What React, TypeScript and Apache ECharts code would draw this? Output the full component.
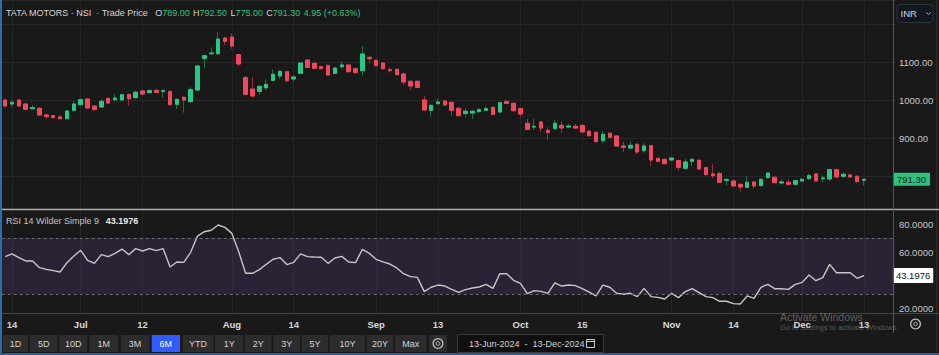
import React, { useEffect, useRef } from 'react';
import * as echarts from 'echarts';

// ---------- data ----------
const junDays = [13, 14, 18, 19, 20, 21, 24, 25, 26, 27, 28];
const julDays = [1, 2, 3, 4, 5, 8, 9, 10, 11, 12, 15, 16, 18, 19, 22, 23, 24, 25, 26, 29, 30, 31];
const augDays = [1, 2, 5, 6, 7, 8, 9, 12, 13, 14, 16, 19, 20, 21, 22, 23, 26, 27, 28, 29, 30];
const sepDays = [2, 3, 4, 5, 6, 9, 10, 11, 12, 13, 16, 17, 18, 19, 20, 23, 24, 25, 26, 27, 30];
const octDays = [1, 3, 4, 7, 8, 9, 10, 11, 14, 15, 16, 17, 18, 21, 22, 23, 24, 25, 28, 29, 30, 31];
const novDays = [1, 4, 5, 6, 7, 8, 11, 12, 13, 14, 18, 19, 21, 22, 25, 26, 27, 28, 29];
const decDays = [2, 3, 4, 5, 6, 9, 10, 11, 12, 13];
const futureDays = ['2024-12-16', '2024-12-17', '2024-12-18', '2024-12-19'];

const monthDays: [string, number[]][] = [
  ['06', junDays], ['07', julDays], ['08', augDays], ['09', sepDays],
  ['10', octDays], ['11', novDays], ['12', decDays],
];
const categories: string[] = monthDays
  .flatMap(([m, ds]) => ds.map((d) => `2024-${m}-${String(d).padStart(2, '0')}`))
  .concat(futureDays);

const opens = [
  1000, 989.5, 1000, 989.5, 977.2, 978.1, 960.5, 958.8, 955.3, 950.9,
  972.8, 987.7, 1002.6, 984.2, 981.6, 1004.4, 1000.9, 1000, 1014, 1006.1,
  1023.7, 1019.3, 1025.4, 1022.8, 1022.8, 988.6, 1007, 995.6, 1026.3, 1109.6,
  1121.9, 1121.9, 1163.1, 1165.8, 1119.3, 1058.8, 1028.9, 1022.8, 1032.4, 1051.7,
  1063.1, 1074.5, 1055.3, 1070.2, 1105.2, 1096.5, 1087.7, 1090.3, 1070.2, 1087.7,
  1092.1, 1082.4, 1077.2, 1112.3, 1104.4, 1097.3, 1079.8, 1080.7, 1068.4, 1049.1,
  1049.1, 1000, 972.8, 990.4, 997.4, 993.9, 978.1, 964.9, 965.8, 969.3,
  972.8, 980.7, 968.4, 996.5, 991.2, 977.2, 938.6, 929, 942.1, 920.2,
  924.6, 933.3, 929, 930.7, 933.3, 917.6, 914.9, 893, 912.3, 905.3,
  879, 873.7, 883.4, 866.7, 879.9, 846.5, 843.9, 842.1, 840.4, 820.2,
  838.6, 841.3, 822, 805.3, 806.2, 788.6, 786.9, 778.1, 770.2, 784.3,
  774.6, 795.7, 796.5, 781.6, 783.4, 778.1, 786.9, 793, 805.3, 793,
  792.1, 816.7, 799.2, 802.7, 799.2, 789,
];
const highs = [
  1001.8, 1000, 1002.6, 991.2, 986.8, 979.8, 963.2, 960.5, 960.5, 972.8,
  997.4, 1003.5, 1004.4, 986, 1001.8, 1006.1, 1014.9, 1016.7, 1017.5, 1025.4,
  1026.3, 1028.1, 1027.2, 1028.1, 1024.6, 1003.5, 1008.8, 1033.3, 1091.2, 1118.4,
  1138.6, 1178, 1166.6, 1175.4, 1121, 1063.2, 1059.6, 1038.6, 1054.4, 1080.7,
  1078, 1076.3, 1065.8, 1099.1, 1107, 1098.2, 1089.5, 1093.8, 1086.8, 1101.7,
  1093.8, 1085.1, 1142.1, 1114, 1106.1, 1099.1, 1085.1, 1082.4, 1070.2, 1050.9,
  1050.9, 1010.5, 987.7, 1003.5, 999.1, 995.6, 979.8, 979, 973.7, 978.1,
  983.3, 982.5, 994.7, 999.1, 993, 979, 950, 950, 943.9, 928.1,
  947.4, 943, 936.9, 936.9, 935.1, 921.1, 916.7, 917.6, 915.8, 907,
  890.4, 890.4, 885.1, 886, 881.6, 848.3, 845.6, 850, 842.1, 844.8,
  846.5, 843, 823.7, 831.6, 811.4, 794.8, 788.6, 779.9, 800, 786,
  793, 809.7, 798.3, 791.3, 791.3, 789.5, 794.8, 807, 807, 800,
  818.5, 819.3, 809.7, 807, 800.9, 792.5,
];
const lows = [
  980.7, 980.7, 982.5, 973.7, 975.4, 958.8, 950.9, 951.8, 950, 949.1,
  971.9, 986, 977.2, 972.8, 979.8, 990.4, 995.6, 998.2, 985.1, 1004.4,
  1014, 1017.5, 1018.4, 1007, 986, 976.3, 966.7, 993.9, 1024.6, 1083.3,
  1119.3, 1118.4, 1143.8, 1135.1, 1090.3, 1013.2, 1007, 1014, 1026.3, 1050,
  1054.4, 1047.4, 1047.4, 1068.4, 1084.2, 1081.6, 1080.7, 1063.1, 1068.4, 1082.4,
  1072.8, 1070.2, 1064.9, 1096.5, 1088.6, 1080.7, 1071.9, 1064.9, 1039.5, 1024.6,
  1031.6, 971.9, 956.2, 988.6, 985.1, 958.8, 957, 956.2, 950, 967.5,
  971.1, 960.5, 964.9, 989.5, 970.2, 956.2, 921.1, 921.1, 914.9, 894.7,
  922.8, 912.3, 927.2, 924.6, 914, 903.5, 888.6, 886, 899.1, 877.2,
  863.2, 872, 857, 861.4, 826.4, 836.9, 830.7, 840.4, 814.1, 818.5,
  826.4, 816.7, 801.8, 793.9, 781.6, 775.5, 772, 758.8, 768.5, 766.7,
  772.9, 793.9, 780.7, 777.2, 776.4, 776.4, 785.1, 789.5, 785.1, 782.5,
  786.9, 795.7, 796.5, 795.7, 783.4, 775,
];
const closes = [
  984.2, 993.9, 984.2, 975.4, 979.8, 960.5, 956.2, 953.5, 950.9, 971.1,
  989.5, 1000.9, 979, 974.6, 996.5, 992.1, 1005.3, 1014, 1003.5, 1020.2,
  1015.8, 1024.6, 1020.2, 1024.6, 987.7, 1001.8, 1000, 1027.2, 1089.5, 1116.6,
  1123.7, 1160.5, 1154.4, 1142.1, 1094.7, 1014.9, 1010.5, 1036, 1041.2, 1067.5,
  1075.4, 1050.9, 1060.5, 1097.3, 1085.9, 1083.3, 1082.4, 1065.8, 1084.2, 1092.1,
  1074.5, 1071.9, 1121, 1108.7, 1090.3, 1082.4, 1077.2, 1066.7, 1047.4, 1036.8,
  1033.3, 973.7, 986, 994.7, 986.8, 972.8, 958.8, 970.2, 970.2, 974.6,
  977.2, 962.3, 993, 991.2, 971.9, 963.2, 922.8, 930.7, 926.3, 914.9,
  938.6, 926.3, 931.6, 926.3, 915.8, 906.2, 890.4, 909.7, 901.8, 879,
  875.5, 880.7, 863.2, 879, 842.1, 838.6, 832.5, 847.4, 822.8, 836.9,
  843.9, 818.5, 803.6, 800.9, 783.4, 790.4, 773.7, 771.1, 783.4, 773.7,
  791.3, 807.9, 782.5, 784.3, 778.1, 787.8, 791.3, 800.9, 786.9, 794.8,
  816.7, 797.4, 804.4, 797.4, 785.1, 791.3,
];
const rsi = [
  56.7, 58.6, 56.0, 53.6, 53.6, 48.8, 47.6, 46.7, 45.7, 52.4,
  57.1, 61.2, 54.0, 51.9, 58.1, 56.7, 59.0, 62.1, 58.1, 62.4,
  60.7, 62.4, 61.0, 62.4, 49.3, 52.9, 52.6, 59.8, 71.4, 74.5,
  75.5, 79.3, 77.6, 73.3, 60.2, 44.8, 44.8, 47.4, 51.2, 54.8,
  56.0, 51.0, 52.6, 58.7, 56.7, 56.4, 56.2, 51.9, 55.7, 56.9,
  52.9, 52.4, 61.9, 59.0, 54.8, 52.9, 51.4, 48.6, 44.5, 42.4,
  41.9, 31.7, 34.8, 36.4, 35.7, 33.3, 31.2, 33.1, 34.3, 35.0,
  36.9, 34.0, 44.5, 44.5, 39.8, 37.6, 30.2, 32.4, 31.9, 30.5,
  37.9, 35.7, 36.4, 36.0, 33.8, 31.4, 28.6, 36.4, 34.8, 30.5,
  29.8, 30.5, 28.1, 34.0, 28.1, 27.6, 26.4, 30.5, 27.4, 31.7,
  33.8, 31.0, 28.1, 27.4, 24.8, 24.8, 23.1, 22.9, 28.6, 26.9,
  34.8, 36.9, 33.8, 33.8, 33.3, 36.9, 38.3, 43.6, 39.5, 41.7,
  51.2, 45.2, 45.2, 45.2, 41.2, 43.1976,
];

const tickDates = ['2024-06-14', '2024-07-01', '2024-07-12', '2024-08-01', '2024-08-14', '2024-09-02', '2024-09-13', '2024-10-01', '2024-10-15', '2024-11-01', '2024-11-14', '2024-12-02', '2024-12-13'];
const tickTexts = ['14', 'Jul', '12', 'Aug', '14', 'Sep', '13', 'Oct', '15', 'Nov', '14', 'Dec', '13'];
const monthNames = ['Jul', 'Aug', 'Sep', 'Oct', 'Nov', 'Dec'];
const priceTickLabels = [900, 1000, 1100];
const rsiTickLabels = [20, 60, 80];
const rsiBands = [70, 30];

const symbolName = 'TATA MOTORS · NSI  · Trade Price';
const ohlcKeys = ['O', 'H', 'L', 'C'];
const ohlcValues = ['789.00', '792.50', '775.00', '791.30'];
const changeText = '4.95 (+0.63%)';
const rsiTitle = 'RSI 14 Wilder Simple 9';
const rsiValueText = '43.1976';
const currency = 'INR';
const rangeButtons = ['1D', '5D', '10D', '1M', '3M', '6M', 'YTD', '1Y', '2Y', '3Y', '5Y', '10Y', '20Y', 'Max'];
const activeRange = '6M';
const dateRange = '13-Jun-2024  -  13-Dec-2024';

// ---------- styling / layout ----------
const W = 939;
const H = 355;
const BG = '#191919';
const FONT = '"Liberation Sans", Arial, sans-serif';
const UP = '#29c785';
const DOWN = '#f0475e';
const UP_WICK = '#1f6e4c';
const DOWN_WICK = '#96303f';
const TXT = '#c8c8c8';
const GRID_LINE = '#272727';
const AXIS_X = 893;
const CLEAR = 'rgba(0,0,0,0)';
const btnL = [2.7, 30, 59.3, 89.3, 120.7, 151.7, 182.7, 215, 245, 273.3, 301.7, 330, 366.7, 395];
const btnR = [28.3, 57.3, 87.3, 118.3, 149.3, 180, 213.3, 243.3, 271.7, 300, 328.3, 365, 393.3, 426.7];

function buildOption() {
  const lastClose = closes[closes.length - 1];
  const lastRsi = rsi[rsi.length - 1];
  const wickData = opens.map((o, i) => [o, closes[i], lows[i], highs[i]]);
  const bodyData = opens.map((o, i) => [o, closes[i], Math.min(o, closes[i]), Math.max(o, closes[i])]);

  const splitInterval = (_i: number, v: string) => tickDates.includes(v);
  const xAxis = (gridIndex: number, labels: boolean) => ({
    type: 'category',
    gridIndex,
    data: categories,
    boundaryGap: true,
    axisLine: { show: false },
    axisTick: { show: false },
    axisPointer: { show: false },
    axisLabel: labels
      ? {
          show: true,
          interval: splitInterval,
          margin: 6,
          color: '#d2d2d2',
          fontSize: 9.5,
          fontFamily: FONT,
          formatter: (v: string) => {
            const t = tickTexts[tickDates.indexOf(v)] || '';
            return monthNames.includes(t) ? `{m|${t}}` : `{d|${t}}`;
          },
          rich: {
            m: { fontWeight: 'bold', color: '#dcdcdc', fontSize: 9.5, fontFamily: FONT },
            d: { fontWeight: 'bold', color: '#d2d2d2', fontSize: 9.5, fontFamily: FONT },
          },
        }
      : { show: false },
    splitLine: { show: true, interval: splitInterval, alignWithLabel: true, lineStyle: { color: '#252525', width: 1 } },
  });

  const valueLabel = (text: string, bg: string, fg: string, padding: number[]) => ({
    show: true, position: 'end', distance: -2, formatter: text,
    backgroundColor: bg, color: fg, fontSize: 9.5, fontFamily: FONT, padding, borderRadius: 1,
  });

  const graphic: any[] = [];
  // header
  graphic.push({
    type: 'text', z: 100,
    style: {
      x: 6, y: 12.5, verticalAlign: 'middle',
      text: `{t|${symbolName}}  ` + ohlcKeys.map((k, i) => `{k|${k}}{v|${ohlcValues[i]}}`).join(' ') + ` {v|${changeText}}`,
      rich: {
        t: { fill: '#d6d6d6', fontSize: 9, fontFamily: FONT },
        k: { fill: '#d6d6d6', fontSize: 9, fontFamily: FONT },
        v: { fill: '#2fc27c', fontSize: 9, fontFamily: FONT },
      },
    },
  });
  // RSI legend
  graphic.push({
    type: 'text', z: 100,
    style: {
      x: 6, y: 221, verticalAlign: 'middle',
      text: `{a|${rsiTitle}}  {b|${rsiValueText}}`,
      rich: {
        a: { fill: '#c4c4c4', fontSize: 9, fontFamily: FONT },
        b: { fill: '#e8e8e8', fontSize: 9, fontWeight: 'bold', fontFamily: FONT },
      },
    },
  });
  // separators
  graphic.push({ type: 'line', z: 100, shape: { x1: 0, y1: 209.5, x2: W, y2: 209.5 }, style: { stroke: '#a9a9a9', lineWidth: 1.6 } });
  graphic.push({ type: 'line', z: 100, shape: { x1: 0, y1: 313.5, x2: W, y2: 313.5 }, style: { stroke: '#454545', lineWidth: 1 } });
  graphic.push({ type: 'line', z: 100, shape: { x1: AXIS_X + 0.5, y1: 0, x2: AXIS_X + 0.5, y2: 333 }, style: { stroke: '#555555', lineWidth: 1 } });
  graphic.push({ type: 'line', z: 1, shape: { x1: 936.5, y1: 0, x2: 936.5, y2: 353 }, style: { stroke: '#2e2e2e', lineWidth: 1 } });
  // currency box
  graphic.push({ type: 'rect', z: 100, shape: { x: 897, y: 4.5, width: 36, height: 18, r: 3 }, style: { fill: '#131820', stroke: '#2a3340', lineWidth: 1 } });
  graphic.push({ type: 'text', z: 101, style: { x: 900.5, y: 13.5, verticalAlign: 'middle', text: currency, fill: '#d4d4e2', fontSize: 9.5, fontFamily: FONT } });
  graphic.push({ type: 'polyline', z: 101, shape: { points: [[926.5, 12.5], [928.5, 14.5], [930.5, 12.5]] }, style: { stroke: '#b8b8c8', lineWidth: 1, fill: 'none' } });
  // gear icons
  const gear = (cx: number, cy: number) => [
    { type: 'ring', z: 101, shape: { cx, cy, r: 5.5, r0: 4.2 }, style: { fill: '#bdbdbd' } },
    { type: 'circle', z: 101, shape: { cx, cy, r: 1.8 }, style: { fill: 'none', stroke: '#bdbdbd', lineWidth: 1 } },
  ];
  graphic.push(...gear(915.5, 324));
  // range buttons
  rangeButtons.forEach((b, i) => {
    const active = b === activeRange;
    graphic.push({ type: 'rect', z: 100, shape: { x: btnL[i], y: 335, width: btnR[i] - btnL[i], height: 17 }, style: { fill: active ? '#2f5bff' : '#2c2c2c' } });
    graphic.push({ type: 'text', z: 101, style: { x: (btnL[i] + btnR[i]) / 2, y: 343.5, align: 'center', verticalAlign: 'middle', text: b, fill: active ? '#ffffff' : '#d4d4d4', fontSize: 9, fontFamily: FONT } });
  });
  graphic.push({ type: 'rect', z: 100, shape: { x: 429, y: 335, width: 18, height: 17 }, style: { fill: '#2c2c2c' } });
  graphic.push(...gear(438, 343.5));
  // date range box
  graphic.push({ type: 'rect', z: 100, shape: { x: 457.5, y: 334.5, width: 146, height: 18 }, style: { fill: '#0f0f0f', stroke: '#3a3a3a', lineWidth: 1 } });
  graphic.push({ type: 'text', z: 101, style: { x: 469, y: 343.5, verticalAlign: 'middle', text: dateRange, fill: '#d4d4d4', fontSize: 9, fontFamily: FONT } });
  graphic.push({ type: 'rect', z: 101, shape: { x: 586.5, y: 339.5, width: 8, height: 8 }, style: { fill: 'none', stroke: '#cfcfcf', lineWidth: 1 } });
  graphic.push({ type: 'line', z: 101, shape: { x1: 586.5, y1: 341.5, x2: 594.5, y2: 341.5 }, style: { stroke: '#cfcfcf', lineWidth: 1 } });
  // windows watermark
  graphic.push({ type: 'text', z: 200, style: { x: 780, y: 317, verticalAlign: 'middle', text: 'Activate Windows', fill: 'rgba(190,190,190,0.45)', fontSize: 10.5, fontFamily: FONT } });
  graphic.push({ type: 'text', z: 200, style: { x: 780, y: 327, verticalAlign: 'middle', text: 'Go to Settings to activate Windows.', fill: 'rgba(170,170,170,0.45)', fontSize: 7.5, fontFamily: FONT } });
  // frame
  graphic.push({ type: 'rect', z: 300, shape: { x: 0, y: 0, width: 2, height: H }, style: { fill: '#2f6caa' } });
  graphic.push({ type: 'rect', z: 300, shape: { x: 0, y: 353, width: W, height: 2 }, style: { fill: '#245f98' } });

  return {
    animation: false,
    backgroundColor: BG,
    textStyle: { fontFamily: FONT },
    grid: [
      { left: 1.7, right: 44.1, top: 0, height: 208, outerBoundsMode: 'none' },
      { left: 1.7, right: 44.1, top: 210, height: 103, outerBoundsMode: 'none' },
    ],
    xAxis: [xAxis(0, false), xAxis(1, true)],
    yAxis: [
      {
        type: 'value', gridIndex: 0, position: 'right', min: 715.79, max: 1263.16, splitNumber: 5, scale: true,
        axisLine: { show: false }, axisTick: { show: false },
        axisLabel: { margin: 4, color: TXT, fontSize: 9.5, fontFamily: FONT, formatter: (v: number) => (priceTickLabels.includes(v) ? v.toFixed(2) : '') },
        splitLine: { show: true, lineStyle: { color: GRID_LINE, width: 1 } },
      },
      {
        type: 'value', gridIndex: 1, position: 'right', min: 16.43, max: 90, splitNumber: 4,
        axisLine: { show: false }, axisTick: { show: false },
        axisLabel: { margin: 4, color: TXT, fontSize: 9.5, fontFamily: FONT, formatter: (v: number) => (rsiTickLabels.includes(v) ? v.toFixed(4) : '') },
        splitLine: { show: false },
      },
    ],
    series: [
      {
        type: 'candlestick', name: 'wicks', xAxisIndex: 0, yAxisIndex: 0, data: wickData, barWidth: 4,
        itemStyle: { color: UP, color0: DOWN, borderColor: UP_WICK, borderColor0: DOWN_WICK, borderWidth: 1 },
        silent: true,
      },
      {
        type: 'candlestick', name: 'bodies', xAxisIndex: 0, yAxisIndex: 0, data: bodyData, barWidth: 4,
        itemStyle: { color: UP, color0: DOWN, borderColor: UP, borderColor0: DOWN, borderWidth: 1 },
        silent: true,
        markLine: {
          silent: true, symbol: ['none', 'none'], animation: false,
          lineStyle: { color: CLEAR, width: 1, type: 'solid' },
          label: valueLabel(lastClose.toFixed(2), '#2ec27e', '#0d1f15', [2, 4, 1, 4]),
          data: [{ yAxis: lastClose }],
        },
      },
      {
        type: 'line', name: 'RSI', xAxisIndex: 1, yAxisIndex: 1, data: rsi, symbol: 'none', silent: true,
        lineStyle: { color: '#c6c6c6', width: 1.4 },
        markArea: {
          silent: true,
          itemStyle: { color: 'rgba(126,87,194,0.17)' },
          data: [[{ yAxis: rsiBands[0] }, { yAxis: rsiBands[1] }]],
        },
        markLine: {
          silent: true, symbol: ['none', 'none'], animation: false,
          label: { show: false },
          data: [
            ...rsiBands.map((b) => ({ yAxis: b, lineStyle: { color: '#6c6c6c', type: [3, 3], width: 1 }, label: { show: false } })),
            {
              yAxis: lastRsi,
              lineStyle: { color: CLEAR, width: 1, type: 'solid' },
              label: valueLabel(rsiValueText, '#ffffff', '#111111', [3, 3, 2, 3]),
            },
          ],
        },
      },
    ],
    graphic,
  };
}

export default function App() {
  const ref = useRef<HTMLDivElement>(null);
  useEffect(() => {
    const el = ref.current;
    if (!el) return;
    const chart = echarts.init(el, null, { renderer: 'svg', width: W, height: H });
    chart.setOption(buildOption() as any);
    return () => chart.dispose();
  }, []);
  return <div ref={ref} style={{ position: 'absolute', left: 0, top: 0, width: W, height: H, background: BG }} />;
}
